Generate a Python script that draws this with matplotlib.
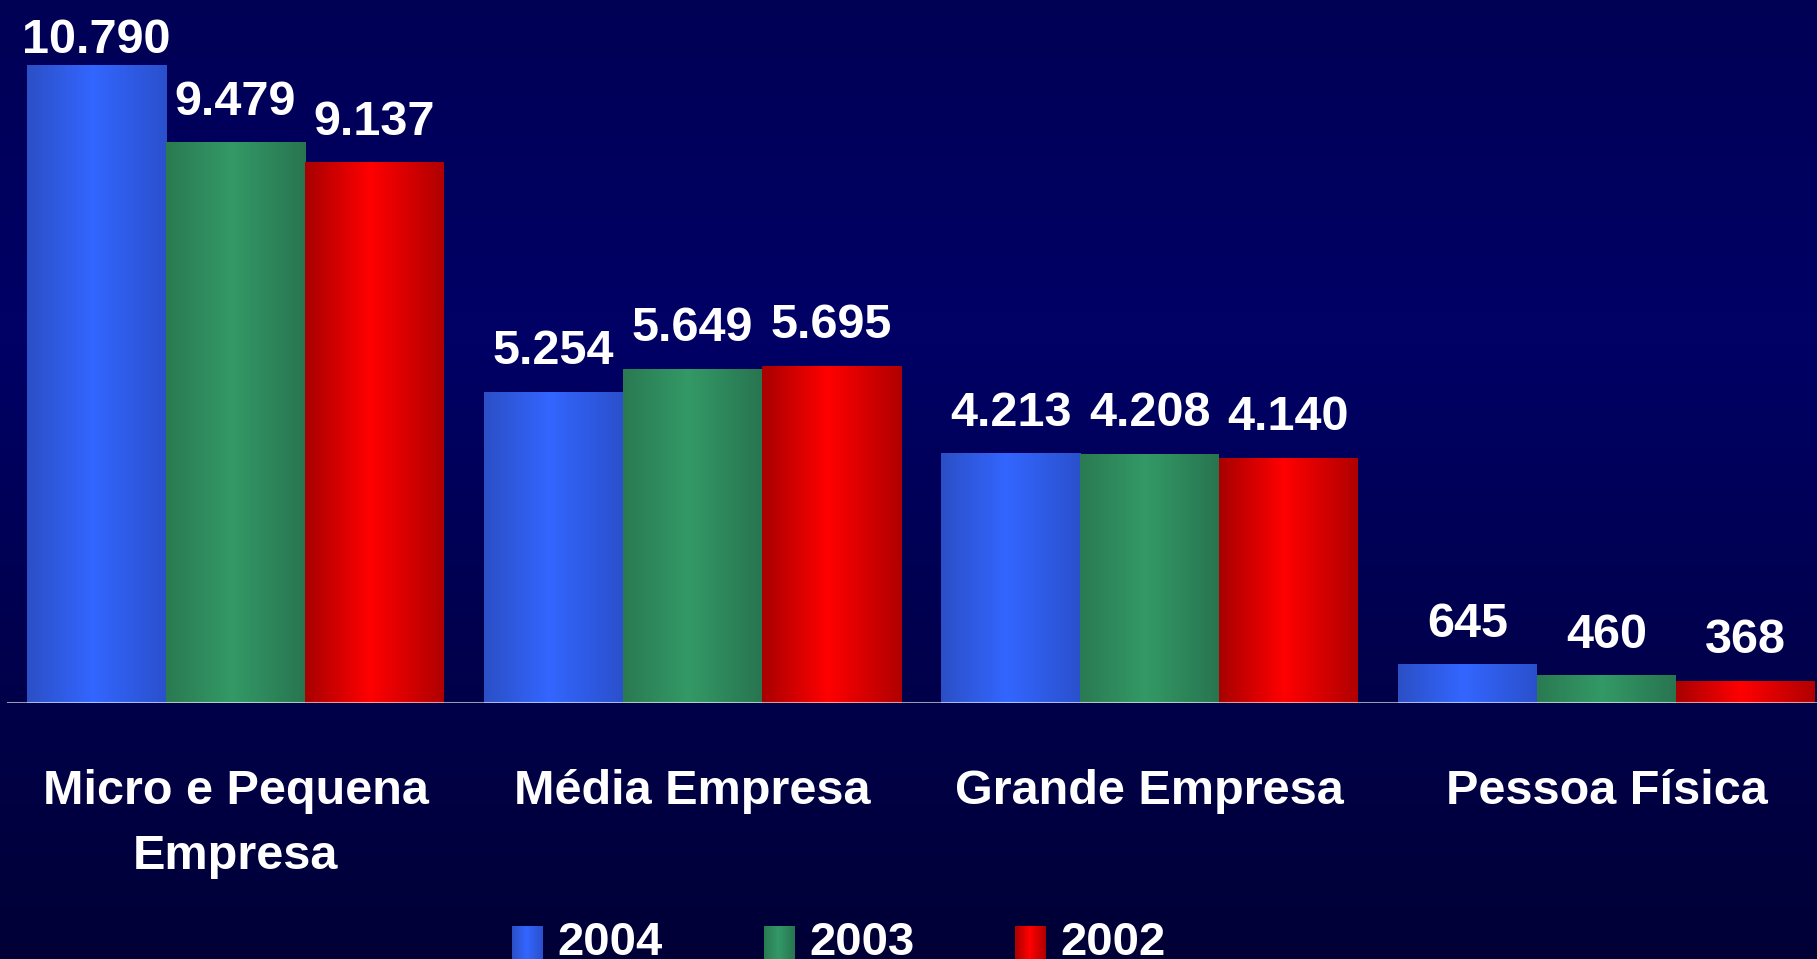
import numpy as np
import matplotlib
matplotlib.use('Agg')
import matplotlib.pyplot as plt
from matplotlib.colors import LinearSegmentedColormap

plt.rcParams['font.family'] = ['Liberation Sans', 'DejaVu Sans']

categories = ['Micro e Pequena\nEmpresa', 'Média Empresa', 'Grande Empresa', 'Pessoa Física']
years = ['2004', '2003', '2002']
values_2004 = [10790, 5254, 4213, 645]
values_2003 = [9479, 5649, 4208, 460]
values_2002 = [9137, 5695, 4140, 368]
series = [values_2004, values_2003, values_2002]

# left edge, highlight, right edge of each bar gradient
bar_shades = [
    ('#2b4fc6', '#3366ff', '#2a50cc'),
    ('#2a7a52', '#339966', '#287550'),
    ('#a80000', '#ff0000', '#b00000'),
]

W, H = 1817, 959
fig = plt.figure(figsize=(W / 100, H / 100), dpi=100)

# navy background, a little lighter in the upper middle
bg = fig.add_axes([0, 0, 1, 1], zorder=-10)
rows = np.arange(H)
shade = np.interp(rows, [0, 330, H - 1], [0x55, 0x66, 0x36]) / 255
bg_img = np.zeros((H, 1, 3))
bg_img[:, 0, 2] = shade
bg.imshow(bg_img, aspect='auto', extent=[0, 1, 0, 1])
bg.axis('off')

base_px = 703
ax = fig.add_axes([7 / W, (H - base_px) / H, 1 - 7 / W, base_px / H])
ax.patch.set_alpha(0)
for s in ax.spines.values():
    s.set_visible(False)
ax.set_xticks([])
ax.set_yticks([])

pitch = 457
width = 139 / pitch
x = np.arange(len(categories))
ymax = 11890
units_per_px = ymax / base_px

grad = np.linspace(0, 1, 256)[None, :]
for k, vals in enumerate(series):
    cmap = LinearSegmentedColormap.from_list('g%d' % k, [(0, bar_shades[k][0]),
                                                         (0.47, bar_shades[k][1]),
                                                         (1, bar_shades[k][2])])
    bars = ax.bar(x + (k - 1) * width, vals, width, color='none', edgecolor='none')
    for rect, v in zip(bars, vals):
        x0, w, h = rect.get_x(), rect.get_width(), rect.get_height()
        ax.imshow(grad, cmap=cmap, aspect='auto', interpolation='bilinear',
                  extent=[x0, x0 + w, 0, h], zorder=2)
        label = '{:,}'.format(v).replace(',', '.')
        ty = min(h + 28 * units_per_px, ymax - 53 * units_per_px)
        ax.text(x0 + w / 2, ty, label, ha='center', va='baseline',
                fontsize=35, fontweight='bold', color='white', zorder=4)

ax.set_xlim(-0.5, -0.5 + (W - 7) / pitch)
ax.set_ylim(0, ymax)
ax.axhline(0, color='white', alpha=0.6, lw=1.5, zorder=3)

for xi, cat in zip(x, categories):
    ax.text(xi, -66 / base_px, cat, transform=ax.get_xaxis_transform(),
            ha='center', va='top', fontsize=35, fontweight='bold',
            color='white', linespacing=1.57, multialignment='center')

# legend drawn in pixel coordinates of the figure
lg = fig.add_axes([0, 0, 1, 1], zorder=5)
lg.patch.set_alpha(0)
lg.axis('off')
legend_x = [512, 764, 1015]
for k, (yr, lx) in enumerate(zip(years, legend_x)):
    cmap = LinearSegmentedColormap.from_list('l%d' % k, [(0, bar_shades[k][0]),
                                                         (0.47, bar_shades[k][1]),
                                                         (1, bar_shades[k][2])])
    lg.imshow(grad, cmap=cmap, aspect='auto', interpolation='bilinear',
              extent=[lx, lx + 31, H + 2, 926])
    lg.text(lx + 45, 955, yr, ha='left', va='baseline', fontsize=34,
            fontweight='bold', color='white')
lg.set_xlim(0, W)
lg.set_ylim(H, 0)

fig.savefig('out.png', dpi=100)
